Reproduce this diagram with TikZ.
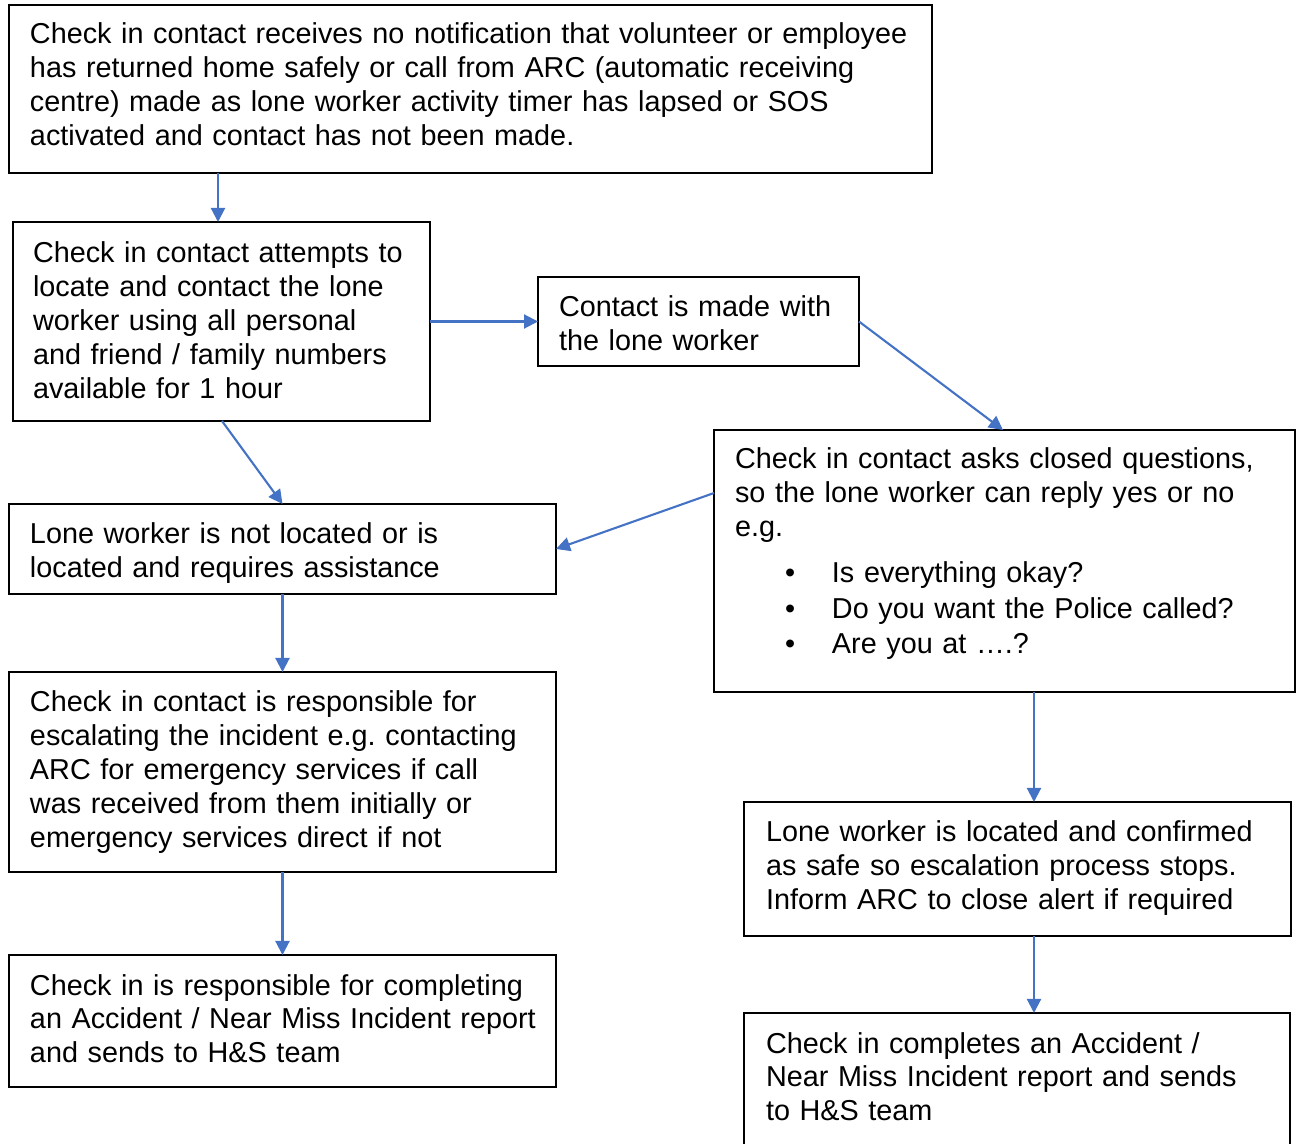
\documentclass[tikz,border=0pt]{standalone}
\usepackage{fontspec}
\setmainfont{Liberation Sans}
\usetikzlibrary{arrows.meta}
\definecolor{arrowblue}{HTML}{4472C4}
\begin{document}
\begin{tikzpicture}[x=0.5pt,y=-0.5pt,
  box/.style={draw=black,line width=1pt,rectangle,inner sep=0pt,outer sep=0pt},
  txt/.style={anchor=base west,inner sep=0pt,outer sep=0pt,text width=320pt,align=left,
    font=\fontsize{14.4pt}{17pt}\selectfont\frenchspacing},
  bul/.style={anchor=base west,inner sep=0pt,outer sep=0pt,text width=250pt,align=left,
    font=\fontsize{14.4pt}{17.6pt}\selectfont\frenchspacing},
  arr/.style={draw=arrowblue,line width=1.05pt,-{Triangle[length=7pt,width=7pt]}}]
\useasboundingbox (0,0) rectangle (1298,1144);
% boxes
\node[box,minimum width=461.5pt,minimum height=84pt] (b1) at (470.5,89) {};
\node[box,minimum width=208.5pt,minimum height=99.5pt] (b2) at (221.5,321.5) {};
\node[box,minimum width=160.5pt,minimum height=44.5pt] (b3) at (698.5,321.5) {};
\node[box,minimum width=290.5pt,minimum height=131pt] (b4) at (1004.5,561) {};
\node[box,minimum width=273.5pt,minimum height=45pt] (b5) at (282.5,549) {};
\node[box,minimum width=273.5pt,minimum height=100pt] (b6) at (282.5,772) {};
\node[box,minimum width=273.5pt,minimum height=67pt] (b7) at (1017.5,869) {};
\node[box,minimum width=273.5pt,minimum height=66pt] (b8) at (282.5,1021) {};
\node[box,minimum width=273pt,minimum height=73.5pt] (b9) at (1017,1086.5) {};
% texts
\node[txt,text width=460pt] (t1) at (30,44) {Check in contact receives no notification that volunteer or employee\\has returned home safely or call from ARC (automatic receiving\\centre) made as lone worker activity timer has lapsed or SOS\\activated and contact has not been made.};
\node[txt] (t2) at (33,263) {Check in contact attempts to\\locate and contact the lone\\worker using all personal\\and friend / family numbers\\available for 1 hour};
\node[txt] (t3) at (559,317) {Contact is made with\\the lone worker};
\node[txt] (t4) at (735,469) {Check in contact asks closed questions,\\so the lone worker can reply yes or no\\e.g.};
\node[bul] (t4b) at (785,583) {\makebox[23.5pt][l]{•}Is everything okay?\\\makebox[23.5pt][l]{•}Do you want the Police called?\\\makebox[23.5pt][l]{•}Are you at ….?};
\node[txt] (t5) at (30,544) {Lone worker is not located or is\\located and requires assistance};
\node[txt] (t6) at (30,712) {Check in contact is responsible for\\escalating the incident e.g. contacting\\ARC for emergency services if call\\was received from them initially or\\emergency services direct if not};
\node[txt] (t7) at (766,842) {Lone worker is located and confirmed\\as safe so escalation process stops.\\Inform ARC to close alert if required};
\node[txt] (t8) at (30,995) {Check in is responsible for completing\\an Accident / Near Miss Incident report\\and sends to H\&S team};
\node[txt] (t9) at (766,1053) {Check in completes an Accident /\\Near Miss Incident report and sends\\to H\&S team};
% arrows
\draw[arr] ([xshift=104.5pt]b1.south west) -- ([xshift=102.5pt]b2.north west);
\draw[arr] (b2.east) -- (b3.west);
\draw[arr] (b3.east) -- ([xshift=144.5pt]b4.north west);
\draw[arr] ([xshift=104.5pt]b2.south west) -- (b5.north);
\draw[arr] ([yshift=-31.5pt]b4.north west) -- (b5.east);
\draw[arr] (b5.south) -- (b6.north);
\draw[arr] (b6.south) -- (b8.north);
\draw[arr] ([xshift=160pt]b4.south west) -- ([xshift=145pt]b7.north west);
\draw[arr] ([xshift=145pt]b7.south west) -- ([xshift=145pt]b9.north west);
\end{tikzpicture}
\end{document}
